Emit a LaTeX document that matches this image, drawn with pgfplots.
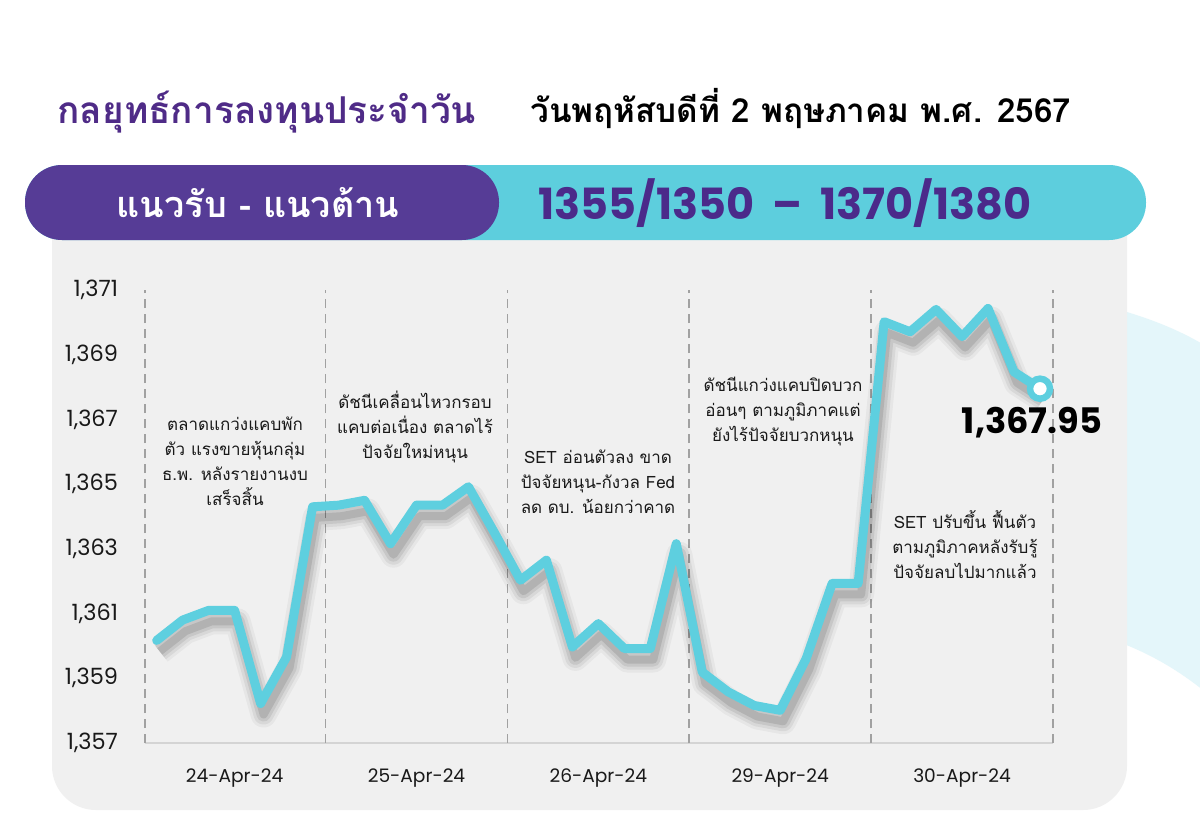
\documentclass[border=0pt]{standalone}
\usepackage{pgfplots}
\pgfplotsset{compat=1.18}
\usepackage{pgfplotstable}
\usepackage{fontspec}
\setmainfont{Poppins}
\newfontfamily\thai[Script=Thai]{Loma}

\definecolor{setcyan}{HTML}{5ECFDF}
\definecolor{bancyan}{HTML}{5DCEDD}
\definecolor{setpurple}{HTML}{563C96}
\definecolor{titlepurple}{HTML}{4F2B87}
\definecolor{numpurple}{HTML}{4B2A8A}
\definecolor{panelgray}{HTML}{F0F0F0}
\definecolor{blobcyan}{HTML}{E4F6FA}

% SET index, 7 readings per trading day
\pgfplotstableread{
i v
0 1360.17
1 1360.80
2 1361.10
3 1361.10
4 1358.22
5 1359.66
6 1364.30
7 1364.35
8 1364.50
9 1363.16
10 1364.35
11 1364.35
12 1364.92
13 1363.50
14 1362.03
15 1362.65
16 1359.97
17 1360.69
18 1359.92
19 1359.92
20 1363.16
21 1359.19
22 1358.58
23 1358.16
24 1358.01
25 1359.61
26 1361.93
27 1361.93
28 1370.02
29 1369.71
30 1370.40
31 1369.56
32 1370.43
33 1368.47
34 1367.95
}\setidx

\tikzset{annote/.style={anchor=base, font=\thai\fontsize{8.5}{8.5}\selectfont, text=black!90},
  dayline/.style={black!37, line width=0.85pt, dash pattern=on 4.5pt off 3pt},
  shade/.style={no markers, black, line join=round, xshift=1.5pt, yshift=-5.5pt}}

\begin{document}
\begin{tikzpicture}[x=0.5pt,y=-0.5pt]
\useasboundingbox (0,0) rectangle (1200,836);
\fill[white] (0,0) rectangle (1200,836);
\begin{scope}
\clip (0,0) rectangle (1200,836);
\fill[blobcyan] (1080,300) .. controls (1150,315) and (1190,335) .. (1215,352)
  -- (1215,700) .. controls (1180,670) and (1140,645) .. (1080,630) -- cycle;
\end{scope}
\fill[panelgray, rounded corners=22pt] (52,190) rectangle (1127,810);

% header
\node[anchor=base west, inner sep=0pt, font=\thai\bfseries\fontsize{18.5}{18.5}\selectfont, text=titlepurple]
  at (57,123) {กลยุทธ์การลงทุนประจำวัน};
\node[anchor=base west, inner sep=0pt, font=\thai\bfseries\fontsize{16.6}{16.6}\selectfont, text=black]
  at (530,122) {วันพฤหัสบดีที่ 2 พฤษภาคม พ.ศ. 2567};

% banner
\fill[bancyan, rounded corners=18.5pt] (25,165) rectangle (1146,240);
\fill[setpurple, rounded corners=18.5pt] (25,165) rectangle (499,240);
\node[anchor=base, font=\thai\bfseries\fontsize{18}{18}\selectfont, text=white]
  at (258,217) {แนวรับ - แนวต้าน};
\node[anchor=base, font=\bfseries\fontsize{21.5}{21.5}\selectfont, text=numpurple]
  at (785,219) {1355/1350\ \ –\ \ 1370/1380};

\coordinate (axSW) at (145,743);
\begin{axis}[
    at={(axSW)}, anchor=south west,
    scale only axis, width=454pt, height=226.5pt,
    xmin=-0.45, xmax=34.5,
    ymin=1357, ymax=1371,
    clip=false,
    axis line style={draw=none},
    tick style={draw=none},
    xtick={3,10,17,24,31},
    xticklabels={24-Apr-24,25-Apr-24,26-Apr-24,29-Apr-24,30-Apr-24},
    ytick={1357,1359,1361,1363,1365,1367,1369,1371},
    yticklabels={{1,357},{1,359},{1,361},{1,363},{1,365},{1,367},{1,369},{1,371}},
    xticklabel style={font=\fontsize{9.3}{9.3}\selectfont, text=black!90, yshift=-9.5pt},
    yticklabel style={font=\fontsize{11.2}{11.2}\selectfont, text=black!90, xshift=-10pt},
]
\draw[black!17, line width=1pt] (axis cs:-0.45,1357) -- (axis cs:34.5,1357);
\draw[dayline] (axis cs:-0.45,1357) -- (axis cs:-0.45,1371);
\draw[dayline] (axis cs:6.5,1357) -- (axis cs:6.5,1371);
\draw[dayline] (axis cs:13.5,1357) -- (axis cs:13.5,1371);
\draw[dayline] (axis cs:20.5,1357) -- (axis cs:20.5,1371);
\draw[dayline] (axis cs:27.5,1357) -- (axis cs:27.5,1371);
\draw[dayline] (axis cs:34.5,1357) -- (axis cs:34.5,1371);

% soft shadow under the line
\addplot[shade, opacity=0.04, line width=13pt] table[x=i,y=v]{\setidx};
\addplot[shade, opacity=0.06, line width=10pt] table[x=i,y=v]{\setidx};
\addplot[shade, opacity=0.08, line width=7pt] table[x=i,y=v]{\setidx};
\addplot[shade, opacity=0.10, line width=4pt] table[x=i,y=v]{\setidx};

\addplot[no markers, setcyan, line width=4.5pt, line join=round, line cap=round]
  table[x=i,y=v]{\setidx};
\addplot[only marks, mark=*, mark size=5pt,
  mark options={fill=white, draw=setcyan, line width=3.25pt}]
  coordinates {(34,1367.95)};
\end{axis}

\node[anchor=base, font=\bfseries\fontsize{17.6}{17.6}\selectfont] at (1032,433) {1,367.95};

% notes per day
\node[annote] at (235,430) {ตลาดแกว่งแคบพัก};
\node[annote] at (235,455) {ตัว แรงขายหุ้นกลุ่ม};
\node[annote] at (235,480) {ธ.พ. หลังรายงานงบ};
\node[annote] at (235,505) {เสร็จสิ้น};

\node[annote] at (415,408) {ดัชนีเคลื่อนไหวกรอบ};
\node[annote] at (415,433) {แคบต่อเนื่อง ตลาดไร้};
\node[annote] at (415,458) {ปัจจัยใหม่หนุน};

\node[annote] at (598,463) {SET อ่อนตัวลง ขาด};
\node[annote] at (598,488) {ปัจจัยหนุน-กังวล Fed};
\node[annote] at (598,513) {ลด ดบ. น้อยกว่าคาด};

\node[annote] at (783,391) {ดัชนีแกว่งแคบปิดบวก};
\node[annote] at (783,416) {อ่อนๆ ตามภูมิภาคแต่};
\node[annote] at (783,441) {ยังไร้ปัจจัยบวกหนุน};

\node[annote] at (965,528) {SET ปรับขึ้น ฟื้นตัว};
\node[annote] at (965,553) {ตามภูมิภาคหลังรับรู้};
\node[annote] at (965,578) {ปัจจัยลบไปมากแล้ว};
\end{tikzpicture}
\end{document}
